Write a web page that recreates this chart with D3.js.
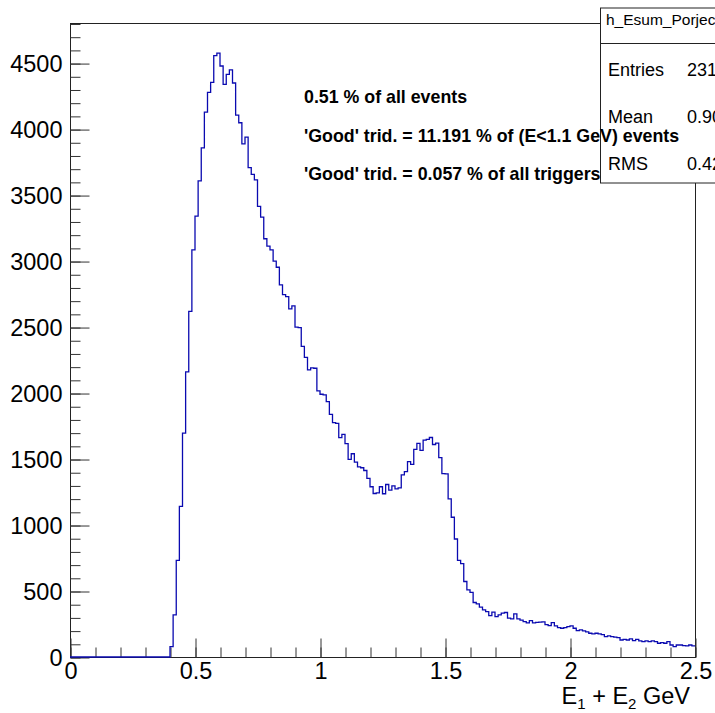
<!DOCTYPE html>
<html>
<head>
<meta charset="utf-8">
<script src="https://cdn.jsdelivr.net/npm/d3@7"></script>
<style>
  body { margin: 0; background: #fff; }
  svg { display: block; font-family: "Liberation Sans", Helvetica, Arial, sans-serif; }
</style>
</head>
<body>
<div id="chart"></div>
<script>
// histogram h_Esum_Porjec: 200 bins on [0, 2.5]
const binWidth = 0.0125;
const counts = [
  0,0,0,0,0,0,0,0,0,0,0,0,0,0,0,0,0,0,0,0,0,0,0,0,0,0,0,0,0,0,0,0,
  78,319,732,1142,1697,2160,2619,3085,3341,3607,
  3858,4128,4278,4354,4557,4575,4478,4339,4415,4448,
  4349,4106,4048,3888,3939,3708,3657,3615,3414,3333,
  3169,3113,3085,3000,2953,2819,2745,2730,2637,2660,
  2500,2495,2353,2270,2176,2191,2188,2016,1991,1986,
  1935,1839,1776,1770,1662,1687,1616,1497,1540,1476,
  1441,1434,1413,1353,1290,1239,1244,1290,1237,1307,
  1264,1297,1274,1282,1380,1405,1480,1459,1573,1619,
  1565,1644,1649,1663,1610,1620,1510,1390,1388,1198,
  1059,894,732,707,572,509,489,413,403,378,
  357,344,314,340,306,319,332,337,294,289,
  327,289,280,268,258,275,258,262,265,266,
  246,238,261,236,223,218,223,230,236,218,
  200,205,198,190,180,175,180,175,170,154,
  160,154,150,147,129,134,129,137,124,134,
  122,116,122,116,122,116,104,109,104,116,
  91,78,91,91,86,84,91,84
];
const xMajorTicks = [0, 0.5, 1, 1.5, 2, 2.5];
const yMajorTicks = [0, 500, 1000, 1500, 2000, 2500, 3000, 3500, 4000, 4500];
const notes = [
  "0.51 % of all events",
  "'Good' trid. = 11.191 % of (E<1.1 GeV) events",
  "'Good' trid. = 0.057 % of all triggers"
];
const statsTitle = "h_Esum_Porjection";
const statsRows = [["Entries", "231874"], ["Mean", "0.9012"], ["RMS", "0.4267"]];

const W = 715, H = 713;
const frame = { left: 70, right: 695, top: 23, bottom: 657 };
const yMax = d3.max(counts) * 1.05;

const svg = d3.select("#chart").append("svg")
  .attr("width", W).attr("height", H)
  .attr("viewBox", [0, 0, W, H]);

const x = d3.scaleLinear().domain([0, 2.5]).range([frame.left, frame.right]);
const y = d3.scaleLinear().domain([0, yMax]).range([frame.bottom, frame.top]);

// frame
svg.append("rect")
  .attr("x", frame.left + 0.5).attr("y", frame.top + 0.5)
  .attr("width", frame.right - frame.left).attr("height", frame.bottom - frame.top)
  .attr("fill", "none").attr("stroke", "#222").attr("stroke-width", 1);

// y axis, ticks pointing into the frame
const yMinor = d3.range(0, yMax, 100);
svg.append("g")
  .attr("transform", `translate(${frame.left + 0.5},0.5)`)
  .call(d3.axisLeft(y).tickValues(yMinor).tickSize(-10).tickFormat(""))
  .call(g => g.select(".domain").remove());
const yAxis = svg.append("g")
  .attr("transform", `translate(${frame.left + 0.5},0.5)`)
  .call(d3.axisLeft(y).tickValues(yMajorTicks).tickSize(-19).tickPadding(8).tickFormat(d3.format("d")));
yAxis.select(".domain").remove();
yAxis.selectAll("text").attr("font-size", 23.5).attr("font-family", null).attr("fill", "#000");

// x axis
const xMinor = d3.range(0, 2.5001, 0.1);
svg.append("g")
  .attr("transform", `translate(0.5,${frame.bottom + 0.5})`)
  .call(d3.axisBottom(x).tickValues(xMinor).tickSize(-10).tickFormat(""))
  .call(g => g.select(".domain").remove());
const xAxis = svg.append("g")
  .attr("transform", `translate(0.5,${frame.bottom + 0.5})`)
  .call(d3.axisBottom(x).tickValues(xMajorTicks).tickSize(-19).tickPadding(5).tickFormat(d3.format("~g")));
xAxis.select(".domain").remove();
xAxis.selectAll("text").attr("font-size", 23.5).attr("font-family", null).attr("fill", "#000");
svg.selectAll(".tick line").attr("stroke", "#333");

// axis title  E1 + E2 GeV
const xt = svg.append("text")
  .attr("x", 690).attr("y", 704)
  .attr("text-anchor", "end")
  .attr("font-size", 23.5);
xt.append("tspan").text("E");
xt.append("tspan").attr("font-size", 15).attr("dy", 5).text("1");
xt.append("tspan").attr("dy", -5).text(" + E");
xt.append("tspan").attr("font-size", 15).attr("dy", 5).text("2");
xt.append("tspan").attr("dy", -5).text(" GeV");

// histogram as a step line
const pts = counts.map((c, i) => [i * binWidth, c]);
pts.push([counts.length * binWidth, counts[counts.length - 1]]);
const line = d3.line()
  .x(d => x(d[0]))
  .y(d => y(d[1]))
  .curve(d3.curveStepAfter);
svg.append("path")
  .datum(pts)
  .attr("fill", "none")
  .attr("stroke", "#0a0ab0")
  .attr("stroke-width", 1.3)
  .attr("d", line);

// stats box
const box = svg.append("g");
box.append("rect")
  .attr("x", 600.5).attr("y", 8).attr("width", 130).attr("height", 175)
  .attr("fill", "#fff").attr("stroke", "#222");
box.append("line")
  .attr("x1", 600.5).attr("x2", 715).attr("y1", 43.5).attr("y2", 43.5)
  .attr("stroke", "#222");
box.append("text")
  .attr("x", 606).attr("y", 25)
  .attr("font-size", 15.5)
  .text(statsTitle);
box.selectAll("text.row")
  .data(statsRows)
  .join("text")
  .attr("class", "row")
  .attr("x", 608)
  .attr("y", (d, i) => 76 + i * 47)
  .attr("font-size", 18)
  .text(d => d[0]);
box.selectAll("text.val")
  .data(statsRows)
  .join("text")
  .attr("class", "val")
  .attr("x", 687)
  .attr("y", (d, i) => 76 + i * 47)
  .attr("font-size", 18)
  .text(d => d[1]);

// notes
svg.selectAll("text.note")
  .data(notes)
  .join("text")
  .attr("class", "note")
  .attr("x", 304)
  .attr("y", (d, i) => 103 + i * 38.5)
  .attr("font-size", 17.8)
  .attr("font-weight", "bold")
  .text(d => d);
</script>
</body>
</html>
